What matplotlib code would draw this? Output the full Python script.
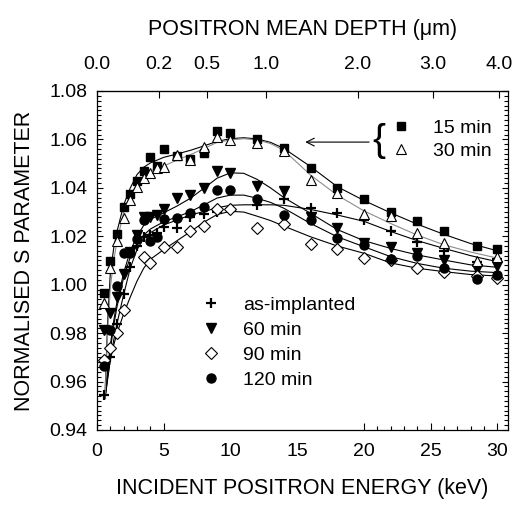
import numpy as np
import matplotlib
matplotlib.use("Agg")
import matplotlib.pyplot as plt
from matplotlib.lines import Line2D

plt.rcParams['font.family'] = ['Liberation Sans', 'DejaVu Sans']

# measured points: incident energy (keV) and normalised S
energy = [0.5, 1, 1.5, 2, 2.5, 3, 3.5, 4, 4.5, 5, 6, 7, 8, 9, 10,
          12, 14, 16, 18, 20, 22, 24, 26, 28.5, 30]
nan = np.nan
s_as_impl = [0.9544, 0.9702, 0.9838, 0.9961, 1.0073, 1.0160, 1.0196, 1.0205, 1.0215, 1.0240,
             1.0236, 1.0281, 1.0290, 1.0300, 1.0310, 1.0328, 1.0352, 1.0317, 1.0295, 1.0267,
             1.0221, 1.0175, 1.0140, 1.0095, 1.0105]
s_15 = [0.9965, 1.0097, 1.0209, 1.0321, 1.0375, 1.0427, 1.0470, 1.0529, 1.0492, 1.0560,
        1.0532, 1.0518, 1.0543, 1.0634, 1.0627, 1.0602, 1.0563, 1.0484, 1.0400, 1.0353,
        1.0299, 1.0264, 1.0221, 1.0160, 1.0149]
s_30 = [0.9926, 1.0068, 1.0182, 1.0274, 1.0350, 1.0405, 1.0440, 1.0462, 1.0482, 1.0485,
        1.0536, 1.0515, 1.0570, 1.0611, 1.0596, 1.0585, 1.0553, 1.0434, 1.0377, 1.0290,
        1.0283, 1.0213, 1.0172, 1.0098, 1.0114]
s_60 = [0.9813, 0.9884, 0.9950, 1.0044, 1.0135, 1.0205, 1.0281, 1.0281, 1.0288, 1.0313,
        1.0357, 1.0370, 1.0400, 1.0469, 1.0462, 1.0406, 1.0389, 1.0281, 1.0235, 1.0171,
        1.0155, 1.0132, 1.0102, 1.0064, 1.0077]
s_90 = [0.9690, 0.9737, 0.9802, 0.9894, nan, nan, 1.0116, 1.0091, nan, 1.0154,
        1.0154, 1.0223, 1.0242, 1.0311, 1.0311, 1.0233, 1.0251, 1.0168, 1.0146, 1.0111,
        1.0102, 1.0068, 1.0052, 1.0035, 1.0028]
s_120 = [0.9665, 0.9813, 0.9993, 1.0129, 1.0129, 1.0190, 1.0266, 1.0182, 1.0198, 1.0273,
         1.0277, 1.0297, 1.0321, 1.0391, 1.0390, 1.0352, 1.0288, 1.0267, 1.0193, 1.0164,
         1.0105, 1.0118, 1.0068, 1.0022, 1.0040]

# VEPFIT curves
fit_energy = [0.6, 0.8, 1.0, 1.25, 1.5, 2, 2.5, 3, 3.5, 4, 5, 6, 7, 8, 9, 10,
              11, 12, 13, 14, 16, 18, 20, 22, 24, 26, 28, 30]
fit_as_impl = [0.953, 0.961, 0.969, 0.977, 0.984, 0.996, 1.007, 1.0145, 1.019, 1.0215, 1.0247,
               1.0267, 1.0288, 1.0302, 1.0318, 1.0328, 1.0330, 1.0330, 1.0330, 1.0328, 1.0311,
               1.0288, 1.0262, 1.0220, 1.0182, 1.0150, 1.0120, 1.0095]
fit_15 = [0.955, 0.985, 1.005, 1.015, 1.022, 1.033, 1.040, 1.0455, 1.0485, 1.0503, 1.0526,
          1.0540, 1.0555, 1.0573, 1.0592, 1.0603, 1.0607, 1.0602, 1.0588, 1.0563, 1.0488,
          1.0405, 1.0348, 1.0297, 1.0250, 1.0208, 1.0170, 1.0140]
fit_30 = [0.953, 0.981, 0.999, 1.010, 1.018, 1.030, 1.037, 1.0415, 1.045, 1.047, 1.049,
          1.0515, 1.0537, 1.0562, 1.0588, 1.0598, 1.0603, 1.0598, 1.0583, 1.0555, 1.0453,
          1.0370, 1.0305, 1.0253, 1.0205, 1.0165, 1.0135, 1.0110]
fit_60 = [0.954, 0.965, 0.975, 0.985, 0.993, 1.005, 1.014, 1.020, 1.0245, 1.027, 1.0297,
          1.0325, 1.0357, 1.0398, 1.0440, 1.0462, 1.0460, 1.0435, 1.0400, 1.0360, 1.0295,
          1.0228, 1.0182, 1.0150, 1.0123, 1.0102, 1.0082, 1.0072]
fit_90 = [0.953, 0.962, 0.969, 0.975, 0.980, 0.988, 0.995, 1.0015, 1.0068, 1.0105, 1.0145,
          1.0182, 1.0219, 1.0258, 1.0290, 1.0303, 1.0300, 1.0283, 1.0265, 1.0242, 1.0198,
          1.0160, 1.0130, 1.0090, 1.0068, 1.0054, 1.0042, 1.0036]
fit_120 = [0.953, 0.963, 0.973, 0.983, 0.991, 1.003, 1.0115, 1.0165, 1.0205, 1.023, 1.026,
           1.028, 1.0302, 1.0329, 1.0358, 1.0370, 1.0370, 1.0357, 1.0340, 1.0316, 1.0253,
           1.0198, 1.0157, 1.0116, 1.0088, 1.0068, 1.0056, 1.0050]

depth_ticks = [0.0, 0.2, 0.5, 1.0, 2.0, 3.0, 4.0]


def e2z(e):
    # Makhov mean depth in um for Si
    return 0.0172 * np.clip(e, 0, None) ** 1.6


def z2e(z):
    return (np.clip(z, 0, None) / 0.0172) ** 0.625


fig = plt.figure(figsize=(5.16, 5.14), dpi=100)
ax = fig.add_axes([97 / 516, 1 - 430 / 514, 411 / 516, 339 / 514])

lw = 0.8
ax.plot(fit_energy, fit_as_impl, color='black', lw=lw)
ax.plot(fit_energy, fit_60, color='black', lw=lw)
ax.plot(fit_energy, fit_90, color='black', lw=lw)
ax.plot(fit_energy, fit_120, color='black', lw=lw)
ax.plot(fit_energy, fit_15, color='black', lw=lw)
ax.plot(fit_energy, fit_30, color='#8c8c8c', lw=lw)

st_as = dict(ls='none', marker='+', ms=7, mew=1.6, color='black')
st_60 = dict(ls='none', marker='v', ms=7, color='black')
st_90 = dict(ls='none', marker='D', ms=6.5, mfc='white', mec='black', mew=0.8)
st_120 = dict(ls='none', marker='o', ms=6.5, color='black')
st_15 = dict(ls='none', marker='s', ms=5.5, color='black')
st_30 = dict(ls='none', marker='^', ms=6.5, mfc='white', mec='black', mew=0.8)

ax.plot(energy, s_as_impl, **st_as)
ax.plot(energy, s_60, **st_60)
ax.plot(energy, s_90, **st_90)
ax.plot(energy, s_120, **st_120)
ax.plot(energy, s_15, **st_15)
ax.plot(energy, s_30, **st_30)

ax.set_xlim(0, 30.8)
ax.set_ylim(0.94, 1.08)
ax.set_xticks(range(0, 31, 5))
ax.set_xticks([1, 2, 3, 4, 21, 22, 23, 24, 26, 27, 28, 29], minor=True)
ax.set_yticks(np.arange(0.94, 1.0801, 0.02))
ax.set_yticks(np.arange(0.94, 1.0801, 0.002), minor=True)
ax.set_yticklabels(['%.2f' % v for v in np.arange(0.94, 1.0801, 0.02)])
ax.tick_params(axis='both', which='both', direction='in', labelsize=14)
ax.tick_params(axis='x', which='major', length=5, width=0.8, pad=9, top=False)
ax.tick_params(axis='x', which='minor', length=3, width=0.8, top=False)
ax.tick_params(axis='y', which='major', length=4, width=0.8, right=True, pad=7)
ax.tick_params(axis='y', which='minor', length=3, width=0.8, right=True)
for t in ax.xaxis.get_major_ticks()[2:4]:
    t.tick1line.set_visible(False)
for sp in ax.spines.values():
    sp.set_linewidth(0.9)

ax.set_xlabel('INCIDENT POSITRON ENERGY (keV)', fontsize=15.5, labelpad=13)
ax.set_ylabel('NORMALISED S PARAMETER', fontsize=15.5, labelpad=10)

top = ax.secondary_xaxis('top', functions=(e2z, z2e))
top.set_xticks(depth_ticks)
top.set_xticklabels(['%.1f' % d for d in depth_ticks])
top.tick_params(axis='x', which='major', direction='in', length=5, width=0.8, labelsize=14, pad=13)
top.tick_params(axis='x', which='minor', length=0)
top.set_xlabel('POSITRON MEAN DEPTH (\u03bcm)', fontsize=15.5, labelpad=15)

handles = [Line2D([], [], **st_as), Line2D([], [], **st_60),
           Line2D([], [], **st_90), Line2D([], [], **st_120)]
leg = ax.legend(handles, ['as-implanted', '60 min', '90 min', '120 min'],
                loc='upper left', bbox_to_anchor=(0.254, 0.395), frameon=False,
                fontsize=14, handlelength=1.0, handletextpad=1.15, labelspacing=0.38,
                borderpad=0, borderaxespad=0)
ax.add_artist(leg)

handles2 = [Line2D([], [], **st_15), Line2D([], [], **st_30)]
ax.legend(handles2, ['15 min', '30 min'], loc='upper left', bbox_to_anchor=(0.716, 0.917),
          frameon=False, fontsize=14, handlelength=1.0, handletextpad=1.15,
          labelspacing=0.3, borderpad=0, borderaxespad=0)

ax.text(21.1, 1.0592, '{', fontsize=28, ha='center', va='center')
ax.annotate('', xy=(15.4, 1.0589), xytext=(20.6, 1.0589),
            arrowprops=dict(arrowstyle='->', lw=0.8, color='black', mutation_scale=14))

fig.savefig('out.png', dpi=100)
